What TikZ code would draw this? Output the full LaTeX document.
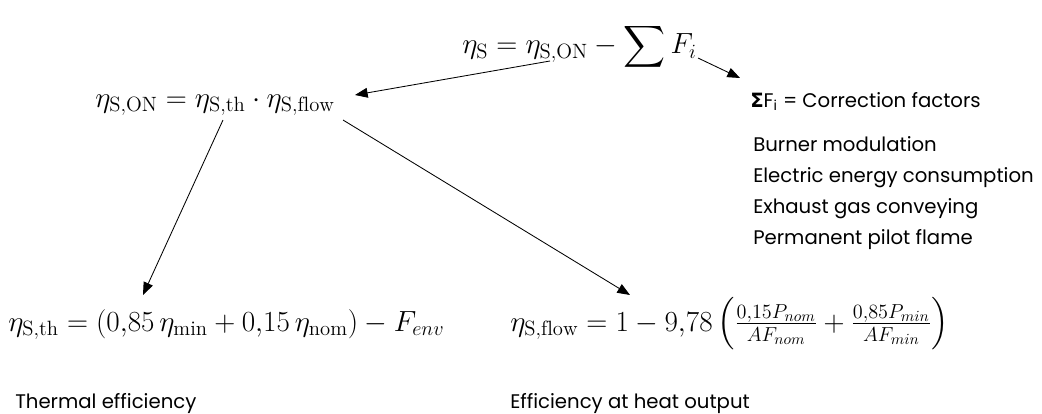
\documentclass[tikz,border=0pt]{standalone}
\usepackage{amsmath}
\usepackage{fontspec}
\newfontfamily\labelfont{Poppins}
\newfontfamily\greekfont{DejaVu Sans}
\usetikzlibrary{arrows.meta,positioning}

\begin{document}
\begin{tikzpicture}[x=0.025cm,y=-0.025cm,
  eq/.style={anchor=base west,inner sep=0pt,font=\fontsize{21}{25}\selectfont},
  lbl/.style={anchor=base west,inner sep=0pt,font=\labelfont\fontsize{14}{17}\selectfont},
  link/.style={-{Triangle[length=9pt,width=7pt]},line width=0.6pt}]
\useasboundingbox (0,0) rectangle (1042,414);
% formulas
\node[eq] (total) at (462,54) {$\eta_{\mathrm{S}} = \eta_{\mathrm{S,ON}} - \displaystyle\sum F_i$};
\node[eq] (on) at (95,107) {$\eta_{\mathrm{S,ON}} = \eta_{\mathrm{S,th}}\cdot\eta_{\mathrm{S,flow}}$};
\node[eq] (th) at (8,331) {$\eta_{\mathrm{S,th}} = (0{,}85\,\eta_{\mathrm{min}} + 0{,}15\,\eta_{\mathrm{nom}}) - F_{env}$};
\node[eq] (flow) at (510,331) {$\eta_{\mathrm{S,flow}} = 1 - 9{,}78\left(\frac{0{,}15P_{nom}}{AF_{nom}} + \frac{0{,}85P_{min}}{AF_{min}}\right)$};
% labels
\node[lbl] (corr) at (750,107) {{\greekfont\bfseries Σ}F\textsubscript{i} = Correction factors};
\node[lbl] (f1) at (753,151) {Burner modulation};
\node[lbl] (f2) at (753,182) {Electric energy consumption};
\node[lbl] (f3) at (753,213) {Exhaust gas conveying};
\node[lbl] (f4) at (753,244) {Permanent pilot flame};
\node[lbl] (thlbl) at (15,408) {Thermal efficiency};
\node[lbl] (flowlbl) at (510,408) {Efficiency at heat output};
% arrow ends
\coordinate (onsub) at (550,61);
\coordinate (fi) at (698,58);
\coordinate (corrtip) at (740,78);
\coordinate (onright) at (355,95);
\coordinate (thtop) at (223,120);
\coordinate (flowtop) at (343,120);
\coordinate (thtip) at (143,295);
\coordinate (flowtip) at (630,295);
\draw[link] (onsub) -- (onright);
\draw[link] (fi) -- (corrtip);
\draw[link] (thtop) -- (thtip);
\draw[link] (flowtop) -- (flowtip);
\end{tikzpicture}
\end{document}
